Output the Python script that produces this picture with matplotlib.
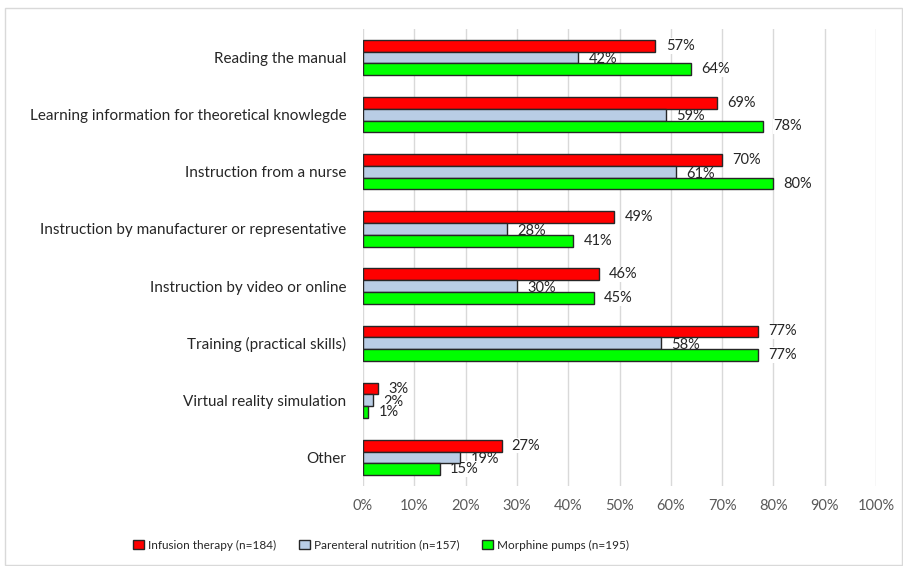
import matplotlib.pyplot as plt
import numpy as np
from matplotlib.patches import Rectangle, Patch

plt.rcParams["font.family"] = ["Lato", "DejaVu Sans"]

categories = [
    "Reading the manual",
    "Learning information for theoretical knowlegde",
    "Instruction from a nurse",
    "Instruction by manufacturer or representative",
    "Instruction by video or online",
    "Training (practical skills)",
    "Virtual reality simulation",
    "Other",
]
infusion = [57, 69, 70, 49, 46, 77, 3, 27]
parenteral = [42, 59, 61, 28, 30, 58, 2, 19]
morphine = [64, 78, 80, 41, 45, 77, 1, 15]

series = [
    ("Infusion therapy (n=184)", infusion, "#FF0000"),
    ("Parenteral nutrition (n=157)", parenteral, "#B9CDE5"),
    ("Morphine pumps (n=195)", morphine, "#00FF00"),
]
xticks = list(range(0, 101, 10))

fig = plt.figure(figsize=(9.04, 5.66), dpi=100)
ax = fig.add_axes([363 / 904, 1 - 486 / 566, 513 / 904, 457 / 566])

# light outer frame like the excel chart area
fig.patches.append(Rectangle((5 / 904, 0.002), 897 / 904, 1 - 8 / 566 - 0.002,
                             transform=fig.transFigure, fill=False,
                             edgecolor="#d9d9d9", linewidth=1.0))

y = np.arange(len(categories))
h = 0.205
for i, (label, vals, color) in enumerate(series):
    pos = y + (i - 1) * h
    ax.barh(pos, vals, height=h, color=color, edgecolor="#262626",
            linewidth=1.0, zorder=3)
    for p, v in zip(pos, vals):
        ax.text(v + 2.0, p + (0.03 if i == 1 else 0), f"{v}%", va="center",
                ha="left", fontsize=10.5, color="#262626", zorder=2.5,
                bbox=dict(boxstyle="square,pad=0.05", fc="white", ec="none"))

ax.set_xlim(0, 100)
ax.set_ylim(len(categories) - 0.5, -0.5)
ax.set_xticks(xticks)
ax.set_xticklabels([f"{t}%" for t in xticks], color="#595959", fontsize=10.5)
ax.set_yticks(y)
ax.set_yticklabels(categories, fontsize=11, color="#262626")
ax.tick_params(axis="both", length=0)
ax.tick_params(axis="x", pad=9)
ax.tick_params(axis="y", pad=12)
ax.grid(axis="x", color="#d9d9d9", linewidth=1.0, zorder=0)
ax.set_axisbelow(True)
for s in ax.spines.values():
    s.set_visible(False)

handles = [Patch(facecolor=c, edgecolor="#262626", linewidth=1.0) for _, _, c in series]
fig.legend(handles, [s[0] for s in series], loc="center", ncol=3,
           bbox_to_anchor=(381 / 904, 1 - 545 / 566), frameon=False,
           fontsize=8.5, handlelength=0.9, handleheight=0.9,
           handletextpad=0.35, columnspacing=1.95, labelcolor="#262626")

fig.savefig("out.png", dpi=100)
